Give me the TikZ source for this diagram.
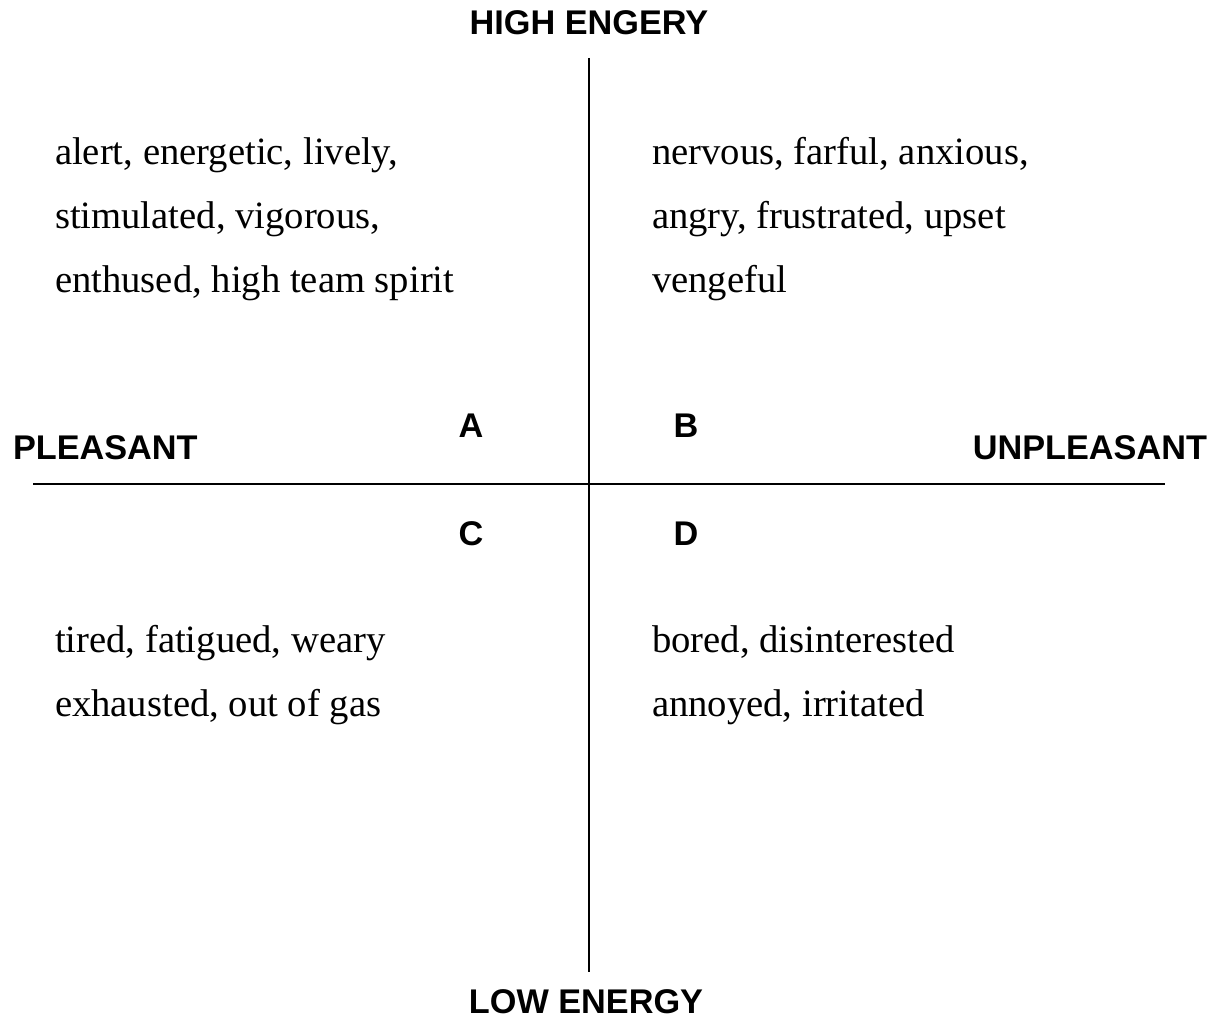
\documentclass[tikz,border=0pt]{standalone}
\usepackage{fontspec}
\setmainfont{Liberation Serif}
\newfontfamily\labelfont{Liberation Sans}

\begin{document}
\begin{tikzpicture}[
    x=0.02cm, y=-0.02cm,   % 1 unit = 1 px, y grows downwards
    every node/.style={inner sep=0pt, outer sep=0pt},
    axis/.style={line width=1.1pt},
    axislabel/.style={font=\labelfont\bfseries\fontsize{19.5}{24}\selectfont},
    quadlabel/.style={font=\labelfont\bfseries\fontsize{19.5}{24}\selectfont, anchor=base},
    mood/.style={font=\fontsize{22}{26}\selectfont, anchor=base west},
  ]
    \useasboundingbox (0,0) rectangle (1215,1020);

    % Axis ends
    \def\cx{589}
    \def\cy{484}
    \coordinate (top) at (\cx, 58);
    \coordinate (bottom) at (\cx, 972);
    \coordinate (left) at (33, \cy);
    \coordinate (right) at (1165, \cy);

    % Axes
    \draw[axis] (top) -- (bottom);
    \draw[axis] (left) -- (right);

    % Axis labels
    \node[axislabel, anchor=base] (high) at (\cx, 35) {HIGH ENGERY};
    \node[axislabel, anchor=base] (low) at (586, 1013) {LOW ENERGY};
    \node[axislabel, anchor=base west] (pleasant) at (13, 460) {PLEASANT};
    \node[axislabel, anchor=base east] (unpleasant) at (1207, 460) {UNPLEASANT};

    % Quadrant letters
    \node[quadlabel] (qA) at (471, 438) {A};
    \node[quadlabel] (qB) at (686, 438) {B};
    \node[quadlabel] (qC) at (471, 546) {C};
    \node[quadlabel] (qD) at (686, 546) {D};

    % Mood words, one line per node (64 px apart)
    \def\lh{64}
    \foreach \txt [count=\i] in {{alert, energetic, lively,},
                                 {stimulated, vigorous,},
                                 {enthused, high team spirit}}
      \node[mood] (wordsA-\i) at (55, 165+\i*\lh-\lh) {\txt};
    \foreach \txt [count=\i] in {{nervous, farful, anxious,},
                                 {angry, frustrated, upset},
                                 {vengeful}}
      \node[mood] (wordsB-\i) at (652, 165+\i*\lh-\lh) {\txt};
    \foreach \txt [count=\i] in {{tired, fatigued, weary},
                                 {exhausted, out of gas}}
      \node[mood] (wordsC-\i) at (55, 653+\i*\lh-\lh) {\txt};
    \foreach \txt [count=\i] in {{bored, disinterested},
                                 {annoyed, irritated}}
      \node[mood] (wordsD-\i) at (652, 653+\i*\lh-\lh) {\txt};

  \end{tikzpicture}
\end{document}
